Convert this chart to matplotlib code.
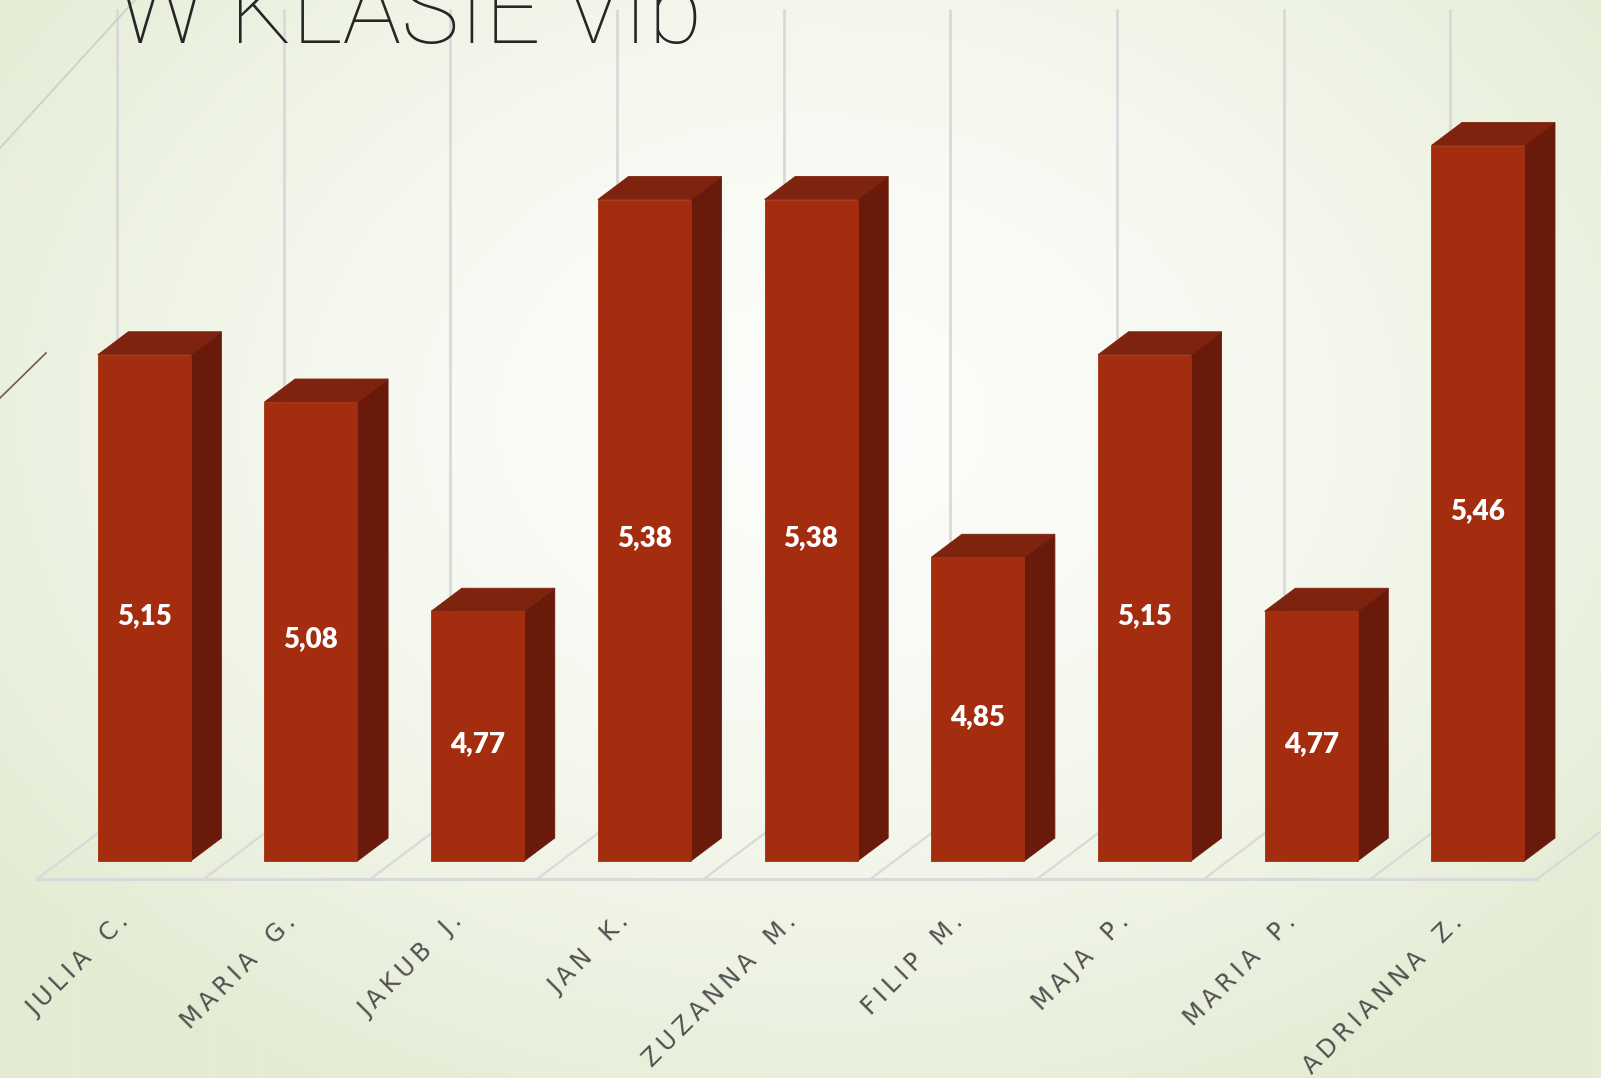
import numpy as np
import matplotlib
matplotlib.use("Agg")
import matplotlib.pyplot as plt
from matplotlib.patches import Polygon

# ---------------- data ----------------
names = ["JULIA C.", "MARIA G.", "JAKUB J.", "JAN K.", "ZUZANNA M.",
         "FILIP M.", "MAJA P.", "MARIA P.", "ADRIANNA Z."]
values = [5.15, 5.08, 4.77, 5.38, 5.38, 4.85, 5.15, 4.77, 5.46]
value_labels = ["5,15", "5,08", "4,77", "5,38", "5,38", "4,85", "5,15", "4,77", "5,46"]
title = "W KLASIE VIb"
y_min, y_max = 4.4, 5.6

# ---------------- layout ----------------
W, H = 1601, 1078
PX_X = 166.7          # pixels per category
PX_Y = 675.0          # pixels per value unit
X0, Y0 = 37.0, 879.0  # pixel of floor front-left corner
KX = 1.33             # oblique depth: x-pixels per y-pixel of depth

fig = plt.figure(figsize=(W / 100, H / 100), dpi=100)
ax = fig.add_axes([0, 0, 1, 1])
ax.set_xlim(-0.5 - X0 / PX_X, -0.5 + (W - X0) / PX_X)
ax.set_ylim(y_min - (H - Y0) / PX_Y, y_min + Y0 / PX_Y)
ax.axis("off")

# background radial gradient
yy, xx = np.mgrid[0:H, 0:W]
r = np.sqrt(((xx - 820) / 1000.0) ** 2 + ((yy - 420) / 760.0) ** 2)
t = np.clip(r, 0, 1) ** 1.6
c_in = np.array([252, 253, 250]) / 255.0
c_out = np.array([228, 236, 212]) / 255.0
img = c_in[None, None, :] * (1 - t[..., None]) + c_out[None, None, :] * t[..., None]
ax.imshow(img, extent=[0, 1, 0, 1], transform=ax.transAxes, aspect="auto", zorder=0)


def proj(x, v, d):
    return (x + d * KX / PX_X, v + d / PX_Y)


D_FRONT, D_BACK, D_WALL = 18, 41, 60
grid_c = "#d9d9d9"
n = len(values)

# decorative theme lines (figure coordinates)
fig.add_artist(plt.Line2D([0, 135 / W], [1 - 148 / H, 1.0], color="#cdd3bd", lw=1.3, zorder=1))
fig.add_artist(plt.Line2D([0, 46 / W], [1 - 398 / H, 1 - 353 / H], color="#6e5f48", lw=1.2, zorder=1))

# back wall vertical gridlines and floor
for k in range(n + 1):
    xb = k - 0.5
    p0 = proj(xb, y_min, D_WALL)
    p1 = proj(xb, y_max, D_WALL)
    ax.plot([p0[0], p1[0]], [p0[1], p1[1]], color=grid_c, lw=2, zorder=2, solid_capstyle="butt")
    f0 = proj(xb, y_min, 0)
    f1 = proj(xb, y_min, D_WALL)
    ax.plot([f0[0], f1[0]], [f0[1], f1[1]], color=grid_c, lw=1.6, zorder=2)
fa = proj(-0.5, y_min, 0)
fb = proj(n - 0.5, y_min, 0)
ax.plot([fa[0], fb[0]], [fa[1], fb[1]], color=grid_c, lw=2.2, zorder=2)

# bars
hw = 93 / PX_X / 2
c_front, c_top, c_side = "#a42d10", "#7e230d", "#6a1a0a"
for i, v in enumerate(values):
    front = [proj(i - hw, y_min, D_FRONT), proj(i + hw, y_min, D_FRONT),
             proj(i + hw, v, D_FRONT), proj(i - hw, v, D_FRONT)]
    top = [proj(i - hw, v, D_FRONT), proj(i + hw, v, D_FRONT),
           proj(i + hw, v, D_BACK), proj(i - hw, v, D_BACK)]
    side = [proj(i + hw, y_min, D_FRONT), proj(i + hw, v, D_FRONT),
            proj(i + hw, v, D_BACK), proj(i + hw, y_min, D_BACK)]
    for poly, col in ((side, c_side), (top, c_top), (front, c_front)):
        ax.add_patch(Polygon(poly, closed=True, facecolor=col, edgecolor=col,
                             lw=0.6, zorder=3 + i * 0.01))
    cx, cy = proj(i, (y_min + v) / 2, D_FRONT)
    ax.text(cx, cy - 8 / PX_Y, value_labels[i], color="white", fontsize=20, fontweight="heavy",
            family=["Lato", "DejaVu Sans"], ha="center", va="center", zorder=5)


def spaced(s):
    return "\u2009".join(s).replace("\u2009 \u2009", "\u2009 \u2009\u2009")


# category labels
for i, nm in enumerate(names):
    ax.text(i + 0.06, y_min - 44 / PX_Y, spaced(nm), rotation=45, rotation_mode="anchor",
            ha="right", va="baseline", fontsize=17.5, color="#505050",
            family=["DejaVu Sans"], zorder=5)

# title (partially cut off at top, as in the reference)
tt = fig.text(117 / W, 1 - 43 / H, title, fontsize=80, color="#262626",
              family=["Roboto", "DejaVu Sans"], fontweight="light", ha="left", va="baseline")
fig.canvas.draw()
bb = tt.get_window_extent(fig.canvas.get_renderer())
tt.set_fontsize(80 * 585 / bb.width)

fig.savefig("out.png", dpi=100)
